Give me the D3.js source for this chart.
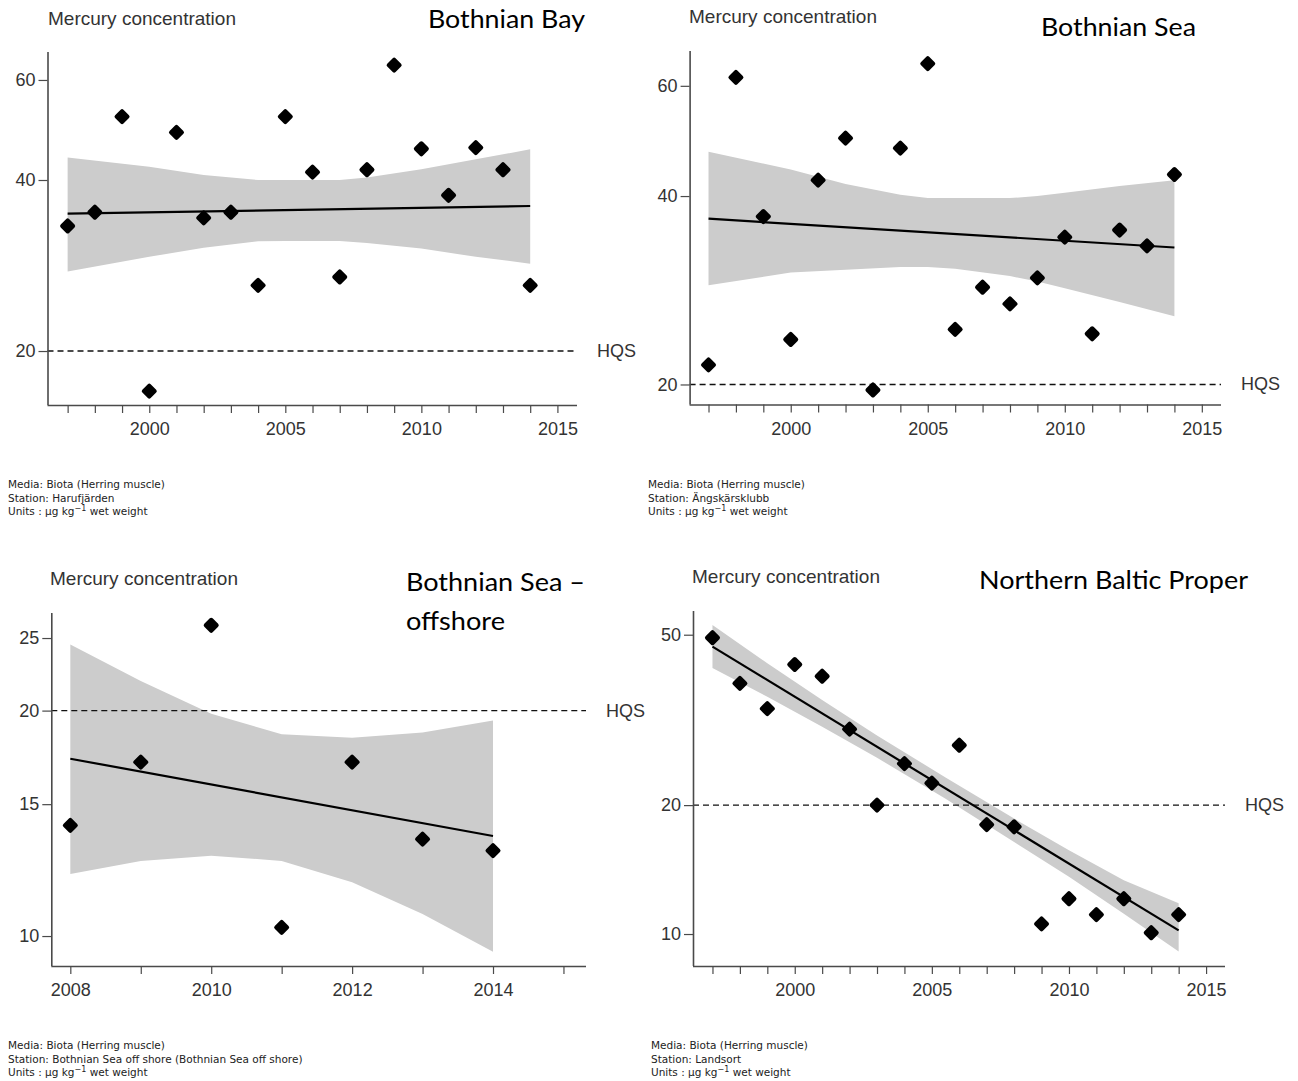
<!DOCTYPE html>
<html>
<head>
<meta charset="utf-8">
<script src="https://cdn.jsdelivr.net/npm/d3@7"></script>
<style>
  body { margin: 0; background: #fff; }
  svg { display: block; }
</style>
</head>
<body>
<svg id="chart" width="1298" height="1081"></svg>
<script>
// ---- Bothnian Bay (Harufjärden) ----
const bbYears = [1997,1998,1999,2000,2001,2002,2003,2004,2005,2006,2007,2008,2009,2010,2011,2012,2013,2014];
const bbHg    = [33.2,35.1,51.7,17.0,48.5,34.3,35.1,26.1,51.7,41.3,27.0,41.7,63.7,45.4,37.6,45.6,41.7,26.1];
const bbFitYears = [1997, 2014];
const bbFit      = [34.9, 36.0];
const bbBandYears = [1997,2000,2002,2004,2005,2007,2008,2010,2012,2014];
const bbBandHigh  = [43.8,42.2,40.8,40.0,40.0,40.0,40.4,41.8,43.5,45.3];
const bbBandLow   = [27.6,29.3,30.4,31.2,31.25,31.25,31.0,30.3,29.3,28.5];

// ---- Bothnian Sea (Ängskärsklubb) ----
const bsYears = [1997,1998,1999,2000,2001,2002,2003,2004,2005,2006,2007,2008,2009,2010,2011,2012,2013,2014];
const bsHg    = [21.5,61.9,37.1,23.6,42.4,49.5,19.6,47.7,65.1,24.5,28.6,26.9,29.6,34.4,24.1,35.3,33.3,43.3];
const bsFitYears = [1997, 2014];
const bsFit      = [36.8, 33.1];
const bsBandYears = [1997,2000,2002,2004,2005,2006,2008,2009,2010,2012,2014];
const bsBandHigh  = [47.1,44.1,41.8,40.2,39.7,39.7,39.7,40.0,40.5,41.5,42.4];
const bsBandLow   = [28.8,30.2,30.5,30.8,30.8,30.6,29.8,29.2,28.5,27.1,25.7];

// ---- Bothnian Sea offshore ----
const boYears = [2008,2009,2010,2011,2012,2013,2014];
const boHg    = [14.05,17.07,26.0,10.27,17.07,13.47,13.0];
const boFitYears = [2008, 2014];
const boFit      = [17.25, 13.6];
const boBandYears = [2008,2009,2010,2011,2012,2013,2014];
const boBandHigh  = [24.5,21.9,19.8,18.6,18.4,18.7,19.4];
const boBandLow   = [12.1,12.6,12.8,12.6,11.8,10.7,9.53];

// ---- Northern Baltic Proper (Landsort) ----
const nbYears = [1997,1998,1999,2000,2001,2002,2003,2004,2005,2006,2007,2008,2009,2010,2011,2012,2013,2014];
const nbHg    = [49.2,38.5,33.6,42.6,40.0,30.1,20.0,25.0,22.5,27.6,18.0,17.8,10.56,12.09,11.1,12.09,10.07,11.1];
const nbFitYears = [1997, 2014];
const nbFit      = [46.9, 10.2];
const nbBandYears = [1997,1999,2001,2003,2005.5,2008,2010,2012,2014];
const nbBandHigh  = [52.7,42.9,35.2,29.1,23.2,18.6,15.7,13.35,11.8];
const nbBandLow   = [41.8,35.8,30.5,25.8,20.7,16.4,13.6,11.15,9.1];

// ---- Axis ticks ----
const longTickYears  = d3.range(1997, 2016);
const longLabelYears = [2000, 2005, 2010, 2015];
const shortTickYears  = d3.range(2008, 2016);
const shortLabelYears = [2008, 2010, 2012, 2014];
const bbYTicks = [20, 40, 60];
const bsYTicks = [20, 40, 60];
const boYTicks = [10, 15, 20, 25];
const nbYTicks = [10, 20, 50];

const hqs = 20;
const headText = "Mercury concentration";
const mediaText = "Media: Biota (Herring muscle)";

const panels = [
  { title: ["Bothnian Bay"], titleX: 428, titleY: [28], titleW: [157],
    station: "Harufjärden",
    years: bbYears, hg: bbHg, fitYears: bbFitYears, fit: bbFit,
    bandYears: bbBandYears, bandHigh: bbBandHigh, bandLow: bbBandLow,
    xTicks: longTickYears, xLabels: longLabelYears, yTicks: bbYTicks,
    left: 47.5, right: 577, top: 52, bottom: 405,
    xDomain: [1996.26, 2015.72], yDomain: [16.07, 67.2],
    headX: 48, headY: 25, noteX: 8, noteY: 488 },
  { title: ["Bothnian Sea"], titleX: 1041, titleY: [36], titleW: [155],
    station: "Ängskärsklubb",
    years: bsYears, hg: bsHg, fitYears: bsFitYears, fit: bsFit,
    bandYears: bsBandYears, bandHigh: bsBandHigh, bandLow: bsBandLow,
    xTicks: longTickYears, xLabels: longLabelYears, yTicks: bsYTicks,
    left: 689.6, right: 1221, top: 51, bottom: 404.5,
    xDomain: [1996.31, 2015.7], yDomain: [18.58, 68.2],
    headX: 689, headY: 23, noteX: 648, noteY: 488 },
  { title: ["Bothnian Sea –", "offshore"], titleX: 406, titleY: [591, 630], titleW: [179, 99],
    station: "Bothnian Sea off shore (Bothnian Sea off shore)",
    years: boYears, hg: boHg, fitYears: boFitYears, fit: boFit,
    bandYears: boBandYears, bandHigh: boBandHigh, bandLow: boBandLow,
    xTicks: shortTickYears, xLabels: shortLabelYears, yTicks: boYTicks,
    left: 51.3, right: 586, top: 613, bottom: 966,
    xDomain: [2007.73, 2015.32], yDomain: [9.12, 27.0],
    headX: 50, headY: 585, noteX: 8, noteY: 1049 },
  { title: ["Northern Baltic Proper"], titleX: 979, titleY: [589], titleW: [269],
    station: "Landsort",
    years: nbYears, hg: nbHg, fitYears: nbFitYears, fit: nbFit,
    bandYears: nbBandYears, bandHigh: nbBandHigh, bandLow: nbBandLow,
    xTicks: longTickYears, xLabels: longLabelYears, yTicks: nbYTicks,
    left: 693, right: 1225, top: 611, bottom: 966,
    xDomain: [1996.29, 2015.69], yDomain: [8.42, 56.8],
    headX: 692, headY: 583, noteX: 651, noteY: 1049 }
];

const svg = d3.select("#chart");
const axisColor = "#4a4a4a";
const labelFont = "'Liberation Sans', Arial, sans-serif";

function drawPanel(p) {
  const g = svg.append("g");
  const x = d3.scaleLinear().domain(p.xDomain).range([p.left, p.right]);
  const y = d3.scaleLog().domain(p.yDomain).range([p.bottom, p.top]);

  // confidence band
  const band = p.bandYears.map((yr, i) => ({ yr, lo: p.bandLow[i], hi: p.bandHigh[i] }));
  g.append("path")
    .datum(band)
    .attr("fill", "#cccccc")
    .attr("d", d3.area().x(d => x(d.yr)).y0(d => y(d.lo)).y1(d => y(d.hi)));

  // HQS reference line
  g.append("line")
    .attr("x1", p.left).attr("x2", p.right)
    .attr("y1", y(hqs)).attr("y2", y(hqs))
    .attr("stroke", "#111").attr("stroke-width", 1.3)
    .attr("stroke-dasharray", "6,4");
  g.append("text")
    .attr("x", p.right + 20).attr("y", y(hqs))
    .attr("dominant-baseline", "central")
    .attr("font-family", labelFont).attr("font-size", 18)
    .attr("fill", "#333")
    .text("HQS");

  // fitted trend
  const fit = p.fitYears.map((yr, i) => ({ yr, v: p.fit[i] }));
  g.append("path")
    .datum(fit)
    .attr("fill", "none").attr("stroke", "#000").attr("stroke-width", 2.2)
    .attr("d", d3.line().x(d => x(d.yr)).y(d => y(d.v)));

  // observations: rounded diamonds
  const r = 5.5;
  g.selectAll(".obs")
    .data(p.years.map((yr, i) => ({ yr, v: p.hg[i] })))
    .join("path")
    .attr("class", "obs")
    .attr("transform", d => `translate(${x(d.yr)},${y(d.v)})`)
    .attr("d", `M0,${-r}L${r},0L0,${r}L${-r},0Z`)
    .attr("fill", "#000").attr("stroke", "#000")
    .attr("stroke-width", 4).attr("stroke-linejoin", "round");

  // x axis
  const xAxis = g.append("g").attr("transform", `translate(0,${p.bottom})`)
    .call(d3.axisBottom(x).tickValues(p.xTicks).tickSize(8).tickSizeOuter(0)
      .tickFormat(d => p.xLabels.includes(d) ? String(d) : ""));
  xAxis.select(".domain").attr("d", `M${p.left},0.5H${p.right}`);
  xAxis.selectAll("line").attr("stroke", axisColor).attr("stroke-width", 1.2);
  xAxis.select(".domain").attr("stroke", axisColor).attr("stroke-width", 1.6);
  xAxis.selectAll("text")
    .attr("font-family", labelFont).attr("font-size", 18)
    .attr("fill", "#333").attr("dy", null).attr("y", 30);

  // y axis
  const yAxis = g.append("g").attr("transform", `translate(${p.left},0)`)
    .call(d3.axisLeft(y).tickValues(p.yTicks).tickSize(9).tickSizeOuter(0)
      .tickFormat(d3.format("d")));
  yAxis.select(".domain").attr("d", `M0.5,${p.top}V${p.bottom}`);
  yAxis.selectAll("line").attr("stroke", axisColor).attr("stroke-width", 1.2);
  yAxis.select(".domain").attr("stroke", axisColor).attr("stroke-width", 1.6);
  yAxis.selectAll("text")
    .attr("font-family", labelFont).attr("font-size", 18)
    .attr("fill", "#333").attr("x", -12);

  // heading
  g.append("text")
    .attr("x", p.headX).attr("y", p.headY)
    .attr("font-family", labelFont).attr("font-size", 19)
    .attr("fill", "#333")
    .text(headText);

  // region title
  p.title.forEach((t, i) => {
    g.append("text")
      .attr("x", p.titleX).attr("y", p.titleY[i])
      .attr("font-family", "Lato, 'Open Sans', sans-serif").attr("font-size", 25)
      .attr("fill", "#000")
      .attr("textLength", p.titleW[i]).attr("lengthAdjust", "spacingAndGlyphs")
      .text(t);
  });

  // footnote
  const note = g.append("g")
    .attr("font-family", "'DejaVu Sans', sans-serif").attr("font-size", 10.5)
    .attr("fill", "#222");
  note.append("text").attr("x", p.noteX).attr("y", p.noteY).text(mediaText);
  note.append("text").attr("x", p.noteX).attr("y", p.noteY + 13.5).text("Station: " + p.station);
  const u = note.append("text").attr("x", p.noteX).attr("y", p.noteY + 27);
  u.append("tspan").text("Units :  µg kg");
  u.append("tspan").attr("dy", -4).attr("font-size", 8).text("−1");
  u.append("tspan").attr("dy", 4).text(" wet weight");
}

panels.forEach(drawPanel);
</script>
</body>
</html>
